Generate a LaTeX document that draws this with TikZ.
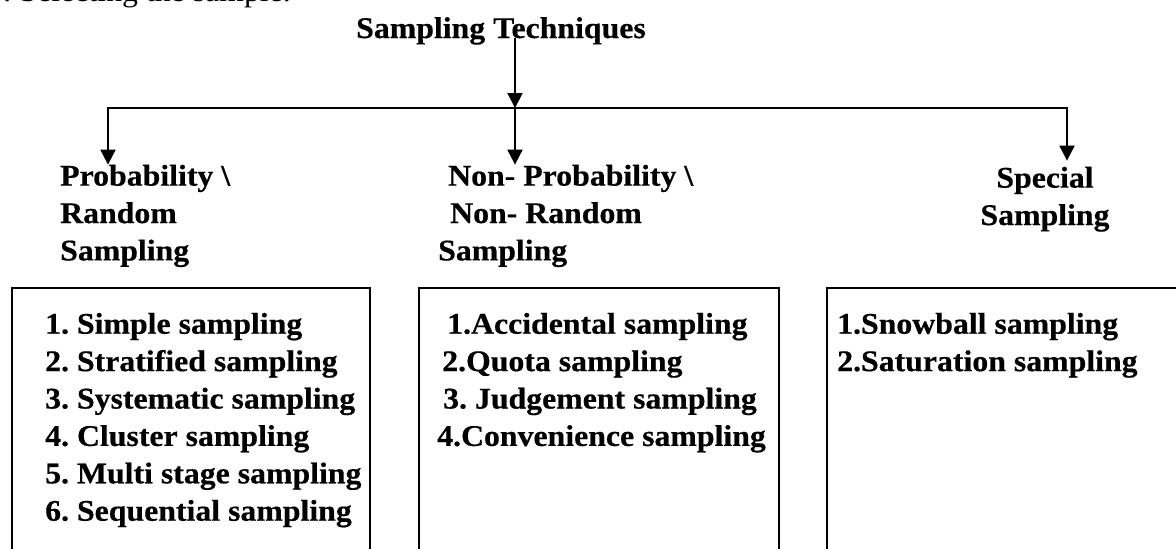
\documentclass[tikz,border=0pt]{standalone}
\usepackage{fontspec}
\setmainfont{Liberation Serif}[FakeStretch=1.06, BoldFeatures={FakeBold=0.5}]
\usetikzlibrary{arrows.meta}
\frenchspacing
\tikzset{
  lbl/.style={font=\fontsize{30}{37.4}\selectfont\bfseries, inner sep=0pt, align=left, anchor=north west},
  arr/.style={-{Triangle[width=15pt,length=15pt]}, line width=2pt},
  wire/.style={line width=2pt, line cap=rect},
  frame/.style={line width=2pt}
}
\begin{document}
\begin{tikzpicture}[x=1pt, y=-1pt]
  \useasboundingbox (0,0) rectangle (1176,549);
  \clip (0,0) rectangle (1176,549);
  % cut-off line above the chart
  \node[font=\fontsize{30}{36}\selectfont, inner sep=0pt, anchor=base east] (stepnote) at (291,1) {: Selecting the sample.};
  \node[font=\fontsize{30}{36}\selectfont\bfseries, inner sep=0pt, anchor=base west] (title) at (356,38) {Sampling Techniques};
  % branch points
  \coordinate (split) at (515,108);
  \coordinate (lcorner) at (108,108);
  \coordinate (rcorner) at (1067,108);
  % the three kinds
  \node[lbl] (prob) at (60,164.6) {Probability \textbackslash\\Random\\Sampling};
  \node[lbl] (nonprob) at (438,164.6) {\hspace*{10pt}Non- Probability \textbackslash\\\hspace*{12pt}Non- Random\\Sampling};
  \node[lbl, align=center, anchor=north] (special) at (1045,166.6) {Special\\Sampling};
  % connectors
  \draw[arr] (title.base -| split) -- (split);
  \draw[wire] (lcorner) -- (rcorner);
  \draw[arr] (lcorner) -- (lcorner |- prob.north);
  \draw[arr] (split) -- (split |- nonprob.north);
  \draw[arr, shorten >=6pt] (rcorner) -- (rcorner |- special.north);
  % open boxes, cut by the lower edge
  \draw[frame] (12,600) |- (370,288) -- (370,600);
  \draw[frame] (419,600) |- (779,288) -- (779,600);
  \draw[frame] (827,600) |- (1200,288);
  \node[lbl] (problist) at (45,312.7) {1. Simple sampling\\2. Stratified sampling\\3. Systematic sampling\\4. Cluster sampling\\5. Multi stage sampling\\6. Sequential sampling};
  \node[lbl] (nonproblist) at (437,312.7) {\hspace*{10pt}1.Accidental sampling\\\hspace*{5pt}2.Quota sampling\\\hspace*{6pt}3. Judgement sampling\\4.Convenience sampling};
  \node[lbl] (speciallist) at (837,312.7) {1.Snowball sampling\\2.Saturation sampling};
\end{tikzpicture}
\end{document}
